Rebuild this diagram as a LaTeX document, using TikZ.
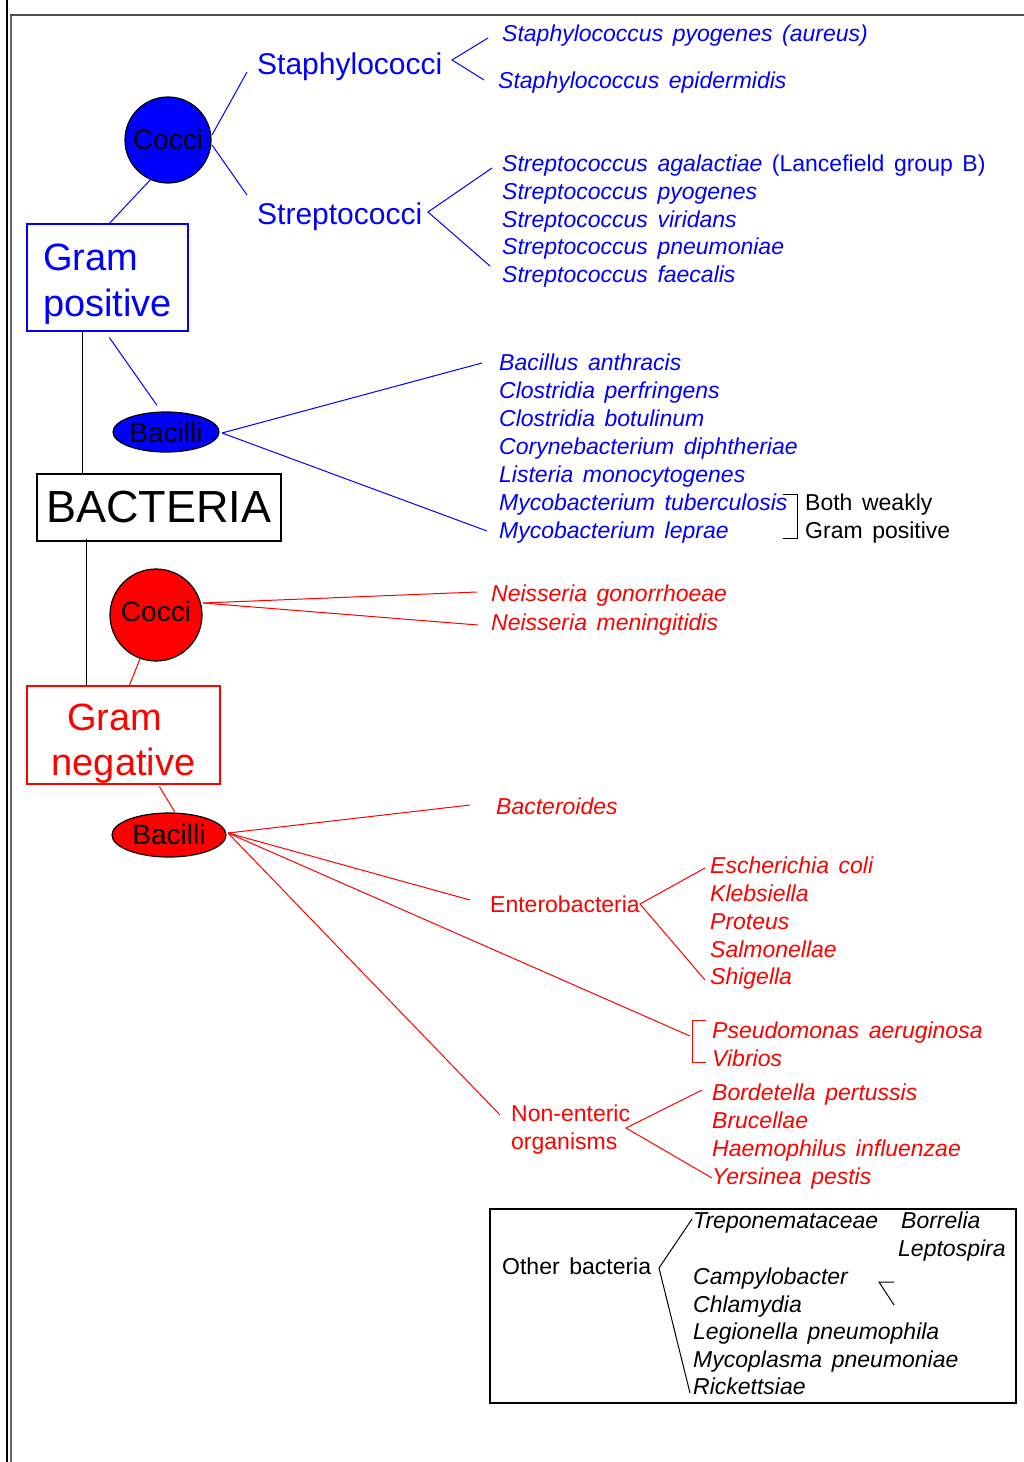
\documentclass[tikz,border=0pt]{standalone}
\usepackage{fontspec}
\setmainfont{Liberation Sans}[WordSpace=1.5]
\usetikzlibrary{shapes.geometric,calc}
\definecolor{pblue}{RGB}{0,0,255}
\definecolor{pred}{RGB}{255,0,0}
\newcommand{\fsz}[1]{\fontsize{#1}{#1}\selectfont}
\tikzset{
  sp/.style={anchor=base west, inner sep=0pt, font=\fsz{23}\itshape},
  up/.style={anchor=base west, inner sep=0pt, font=\fsz{23}},
  big/.style={anchor=base west, inner sep=0pt, font=\fsz{30}},
  conn/.style={line width=1pt},
  blob/.style={draw=black, line width=1.2pt, inner sep=0pt, font=\fsz{28}, text=black},
}
\begin{document}
\begin{tikzpicture}[x=1pt,y=-1pt]
\useasboundingbox (0,0) rectangle (1024,1462);
\fill[white] (0,0) rectangle (1024,1462);
% frame
\draw[line width=2.5pt,black] (7,0) -- (7,1462);
\draw[line width=1.8pt,black!60] (11,15) -- (11,1462);
\draw[line width=2pt,black!70] (10,15) -- (1024,15);

% main boxes
\node[draw=pblue, line width=1.2pt, minimum width=161pt, minimum height=107pt, inner sep=0pt,
      text=pblue, font=\fsz{38}] (gp) at (107.5,277.5)
      {\raisebox{6.9pt}[0pt][0pt]{\begin{tabular}[t]{@{}l@{}}Gram\\[7pt]positive\end{tabular}}};
\node[draw=black, line width=1.2pt, minimum width=244pt, minimum height=67pt, inner sep=0pt,
      font=\fsz{45}] (bact) at (159,507.5) {BACTERIA};
\node[draw=pred, line width=1.2pt, minimum width=193pt, minimum height=98pt, inner sep=0pt,
      text=pred, font=\fsz{38}] (gn) at (123.5,735)
      {\raisebox{5pt}[0pt][0pt]{\begin{tabular}[t]{@{}c@{}}Gram\hspace*{18pt}\\[7pt]negative\end{tabular}}};

% blobs
\node[blob, circle, fill=pblue, minimum size=86pt] (cocciB) at (168,140) {\raisebox{2pt}{Cocci}};
\node[blob, ellipse, fill=pblue, minimum width=106pt, minimum height=40pt] (bacB) at (166,432) {Bacilli};
\node[blob, circle, fill=pred, minimum size=92pt] (cocciR) at (156,615) {\raisebox{7pt}{Cocci}};
\node[blob, ellipse, fill=pred, minimum width=114pt, minimum height=44pt] (bacR) at (169,835) {\raisebox{1pt}{Bacilli}};

% black trunk
\draw[conn,black] ($(gp.south west)+(56,0)$) -- ($(bact.north west)+(46,0)$);
\draw[conn,black] ($(bact.south west)+(50,-3)$) -- ($(gn.north west)+(60,0)$);

% connections to boxes
\draw[conn,pblue] ($(gp.north west)+(83,0)$) -- (cocciB.246);
\draw[conn,pblue] ($(gp.south west)+(83,6)$) -- ($(bacB.north)+(-9,-6)$);
\draw[conn,pred] (cocciR.250) -- ($(gn.north west)+(103,0)$);
\draw[conn,pred] ($(gn.south west)+(133,2)$) -- ($(bacR.north)+(6,0)$);

% Gram positive labels
\node[big, text=pblue] (staph) at (257,74) {Staphylococci};
\node[big, text=pblue] (strep) at (257,224) {Streptococci};
\coordinate (cB1) at (212,135);
\coordinate (cB2) at (212,145);
\coordinate (st1) at (247,72);
\coordinate (st2) at (247,195);
\draw[conn,pblue] (cB1) -- (st1);
\draw[conn,pblue] (cB2) -- (st2);

\begin{scope}[every node/.append style={text=pblue}]
\node[sp] (s1) at (502,41) {Staphylococcus pyogenes (aureus)};
\node[sp] (s2) at (498,88) {Staphylococcus epidermidis};
\node[sp] (t1) at (502,171) {Streptococcus agalactiae \upshape(Lancefield group B)};
\node[sp] (t2) at (502,199) {Streptococcus pyogenes};
\node[sp] (t3) at (502,227) {Streptococcus viridans};
\node[sp] (t4) at (502,254) {Streptococcus pneumoniae};
\node[sp] (t5) at (502,282) {Streptococcus faecalis};
\node[sp] (b1) at (499,370) {Bacillus anthracis};
\node[sp] (b2) at (499,398) {Clostridia perfringens};
\node[sp] (b3) at (499,426) {Clostridia botulinum};
\node[sp] (b4) at (499,454) {Corynebacterium diphtheriae};
\node[sp] (b5) at (499,482) {Listeria monocytogenes};
\node[sp] (b6) at (499,510) {Mycobacterium tuberculosis};
\node[sp] (b7) at (499,538) {Mycobacterium leprae};
\end{scope}

\coordinate (vS) at (452,60);
\coordinate (vS1) at (488,38);
\coordinate (vS2) at (484,80);
\draw[conn,pblue] (vS1) -- (vS) -- (vS2);
\coordinate (vT) at (428,212);
\coordinate (vT1) at (492,168);
\coordinate (vT2) at (490,266);
\draw[conn,pblue] (vT1) -- (vT) -- (vT2);
\coordinate (bB0) at (222,433);
\coordinate (bB1) at (482,363);
\coordinate (bB2) at (487,531);
\draw[conn,pblue] (bB0) -- (bB1);
\draw[conn,pblue] (bB0) -- (bB2);

% weakly bracket
\coordinate (wk1) at (783,494);
\coordinate (wk2) at (783,538);
\draw[conn,black] (wk1) -- ++(14,0) |- (wk2);
\node[up] (wkA) at (805,510) {Both weakly};
\node[up] (wkB) at (805,538) {Gram positive};

% Gram negative
\begin{scope}[every node/.append style={text=pred}]
\node[sp] (n1) at (491,601) {Neisseria gonorrhoeae};
\node[sp] (n2) at (491,630) {Neisseria meningitidis};
\node[sp] (bd) at (496,814) {Bacteroides};
\node[up] (ent) at (490,912) {Enterobacteria};
\node[sp] (e1) at (710,873) {Escherichia coli};
\node[sp] (e2) at (710,901) {Klebsiella};
\node[sp] (e3) at (710,929) {Proteus};
\node[sp] (e4) at (710,957) {Salmonellae};
\node[sp] (e5) at (710,984) {Shigella};
\node[sp] (p1) at (712,1038) {Pseudomonas aeruginosa};
\node[sp] (p2) at (712,1066) {Vibrios};
\node[up] (ne1) at (511,1121) {Non-enteric};
\node[up] (ne2) at (511,1149) {organisms};
\node[sp] (o1) at (712,1100) {Bordetella pertussis};
\node[sp] (o2) at (712,1128) {Brucellae};
\node[sp] (o3) at (712,1156) {Haemophilus influenzae};
\node[sp] (o4) at (712,1184) {Yersinea pestis};
\end{scope}

\coordinate (cR0) at (203,603);
\coordinate (cR1) at (477,592);
\coordinate (cR2) at (478,625);
\draw[conn,pred] (cR0) -- (cR1);
\draw[conn,pred] (cR0) -- (cR2);

\coordinate (bR0) at (228,833);
\coordinate (bR1) at (470,805);
\coordinate (bR2) at (470,900);
\coordinate (bR3) at (690,1036);
\coordinate (bR4) at (500,1115);
\draw[conn,pred] (bR0) -- (bR1);
\draw[conn,pred] (bR0) -- (bR2);
\draw[conn,pred] (bR0) -- (bR3);
\draw[conn,pred] (bR0) -- (bR4);

\coordinate (vE) at (640,904);
\coordinate (vE1) at (705,868);
\coordinate (vE2) at (705,980);
\draw[conn,pred] (vE1) -- (vE) -- (vE2);

\coordinate (pk1) at (706,1020);
\coordinate (pk2) at (706,1062);
\draw[conn,pred] (pk1) -- ++(-14,0) |- (pk2);

\coordinate (vN) at (626,1128);
\coordinate (vN1) at (702,1090);
\coordinate (vN2) at (712,1178);
\draw[conn,pred] (vN1) -- (vN) -- (vN2);

% other bacteria
\node[draw=black, line width=1.2pt, minimum width=526pt, minimum height=194pt, inner sep=0pt] (ob) at (753,1306) {};
\node[up] (obt) at (502,1274) {Other bacteria};
\node[sp] (x1) at (693,1228) {Treponemataceae};
\node[sp] (x1a) at (901,1228) {Borrelia};
\node[sp] (x1b) at (898,1256) {Leptospira};
\node[sp] (x2) at (693,1284) {Campylobacter};
\node[sp] (x3) at (693,1312) {Chlamydia};
\node[sp] (x4) at (693,1339) {Legionella pneumophila};
\node[sp] (x5) at (693,1367) {Mycoplasma pneumoniae};
\node[sp] (x6) at (693,1394) {Rickettsiae};
\coordinate (vO) at (659,1268);
\coordinate (vO1) at (692,1219);
\coordinate (vO2) at (690,1393);
\draw[conn,black] (vO1) -- (vO) -- (vO2);
\coordinate (mk) at (879,1282);
\draw[conn,black] ($(mk)+(15,0)$) -- (mk) -- ($(mk)+(15,23)$);
\end{tikzpicture}
\end{document}
